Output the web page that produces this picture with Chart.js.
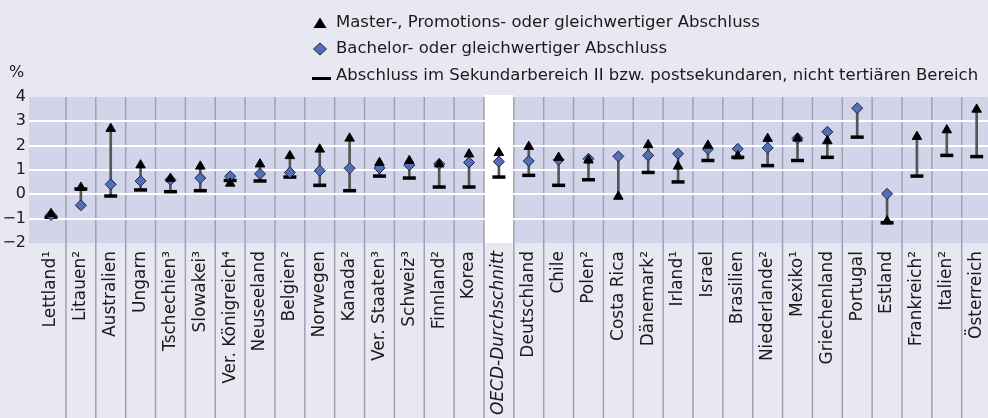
<!DOCTYPE html>
<html>
<head>
<meta charset="utf-8">
<script src="https://cdn.jsdelivr.net/npm/chart.js@4.4.1/dist/chart.umd.min.js"></script>
<style>
  html, body { margin: 0; padding: 0; background: #e8e8f3; }
  canvas { display: block; }
</style>
</head>
<body>
<canvas id="grafico" width="988" height="418"></canvas>
<script>
// Länder (Reihenfolge wie in der Abbildung), OECD-Durchschnitt an Position 15
const laender = ['Lettland¹', 'Litauen²', 'Australien', 'Ungarn', 'Tschechien³', 'Slowakei³',
  'Ver. Königreich⁴', 'Neuseeland', 'Belgien²', 'Norwegen', 'Kanada²', 'Ver. Staaten³',
  'Schweiz³', 'Finnland²', 'Korea', 'OECD-Durchschnitt', 'Deutschland', 'Chile', 'Polen²',
  'Costa Rica', 'Dänemark²', 'Irland¹', 'Israel', 'Brasilien', 'Niederlande²', 'Mexiko¹',
  'Griechenland', 'Portugal', 'Estland', 'Frankreich²', 'Italien²', 'Österreich'];
const oecdIndex = 15;

// Veränderung in Prozentpunkten
const master = [-0.8, 0.28, 2.7, 1.2, 0.65, 1.15, 0.45, 1.24, 1.58, 1.85, 2.3, 1.3,
  1.38, 1.24, 1.65, 1.71, 1.96, 1.51, 1.4, -0.09, 2.03, 1.15, 2.01, 1.57, 2.29, 2.3,
  2.19, null, -1.1, 2.37, 2.64, 3.49];
const bachelor = [-0.85, -0.45, 0.41, 0.55, 0.6, 0.67, 0.74, 0.84, 0.9, 0.97, 1.07, 1.08,
  1.2, 1.25, 1.31, 1.34, 1.37, 1.42, 1.46, 1.56, 1.6, 1.67, 1.86, 1.87, 1.91, 2.3,
  2.57, 3.54, 0.02, null, null, null];
const sekII = [-0.94, 0.22, -0.07, 0.18, 0.11, 0.15, 0.57, 0.55, 0.71, 0.37, 0.15, 0.75,
  0.67, 0.3, 0.3, 0.71, 0.78, 0.37, 0.6, null, 0.9, 0.51, 1.39, 1.52, 1.18, 1.39,
  1.52, 2.35, -1.17, 0.75, 1.6, 1.55];

const yTicks = [-2, -1, 0, 1, 2, 3, 4];
const legendeTexte = [
  'Master-, Promotions- oder gleichwertiger Abschluss',
  'Bachelor- oder gleichwertiger Abschluss',
  'Abschluss im Sekundarbereich II bzw. postsekundaren, nicht tertiären Bereich'
];

const blau = '#5170b2';
const punkte = (werte) => werte.map((v, i) => ({ x: i, y: v }));
const spanne = laender.map((_, i) => {
  const w = [master[i], bachelor[i], sekII[i]].filter(v => v !== null);
  return { x: i, y: [Math.min(...w), Math.max(...w)] };
});

// Hintergrund, Spalten, OECD-Spalte, Länderbeschriftung, Legende und %-Zeichen
const rahmen = {
  id: 'rahmen',
  beforeDraw(chart) {
    const { ctx, chartArea: a, scales: { x } } = chart;
    ctx.save();
    ctx.fillStyle = '#e8e8f3';
    ctx.fillRect(0, 0, chart.width, chart.height);
    ctx.fillStyle = '#d2d5ea';
    ctx.fillRect(a.left, a.top, chart.width - a.left, a.bottom - a.top);
    ctx.fillStyle = '#ffffff';
    const l = x.getPixelForValue(oecdIndex - 0.5), r = x.getPixelForValue(oecdIndex + 0.5);
    ctx.fillRect(l, a.top - 2, r - l, a.bottom - a.top + 2);
    ctx.strokeStyle = '#9fa1b2';
    ctx.lineWidth = 1.5;
    for (let i = 0; i < laender.length; i++) {
      const px = x.getPixelForValue(i + 0.5);
      if (px >= chart.width - 1) continue;
      ctx.beginPath();
      ctx.moveTo(px, a.top);
      ctx.lineTo(px, chart.height);
      ctx.stroke();
    }
    ctx.restore();
  },
  afterDraw(chart) {
    const { ctx, chartArea: a, scales: { x } } = chart;
    ctx.save();
    ctx.fillStyle = '#1a1a1a';
    ctx.textBaseline = 'middle';

    // Ländernamen senkrecht unter dem Diagramm
    ctx.textAlign = 'right';
    laender.forEach((name, i) => {
      ctx.save();
      ctx.translate(x.getPixelForValue(i), a.bottom + 8);
      ctx.rotate(-Math.PI / 2);
      ctx.font = (i === oecdIndex ? 'italic ' : '') + '17px "DejaVu Sans"';
      ctx.fillText(name, 0, 0);
      ctx.restore();
    });

    ctx.textAlign = 'left';
    ctx.font = '16px "DejaVu Sans"';
    ctx.fillText('%', 9, 73);

    ctx.font = '16.5px "DejaVu Sans"';
    const zeilen = [23, 49, 76];
    zeilen.forEach((y, k) => {
      const mx = 320;
      if (k === 0) {
        ctx.fillStyle = '#000';
        ctx.beginPath();
        ctx.moveTo(mx, y - 5.5); ctx.lineTo(mx + 6.5, y + 5); ctx.lineTo(mx - 6.5, y + 5);
        ctx.closePath(); ctx.fill();
      } else if (k === 1) {
        ctx.fillStyle = blau; ctx.strokeStyle = '#1b2547'; ctx.lineWidth = 1;
        ctx.beginPath();
        ctx.moveTo(mx, y - 6); ctx.lineTo(mx + 6.5, y); ctx.lineTo(mx, y + 6); ctx.lineTo(mx - 6.5, y);
        ctx.closePath(); ctx.fill(); ctx.stroke();
      } else {
        ctx.fillStyle = '#000';
        ctx.fillRect(312, y + 1, 19, 3);
      }
      ctx.fillStyle = '#1a1a1a';
      ctx.fillText(legendeTexte[k], 336, y);
    });
    ctx.restore();
  }
};

new Chart(document.getElementById('grafico'), {
  type: 'line',
  data: {
    datasets: [
      {
        label: legendeTexte[0], data: punkte(master), showLine: false, order: 0,
        pointStyle: 'triangle', pointRadius: 5.5, pointBackgroundColor: '#000',
        pointBorderColor: '#000', pointBorderWidth: 1
      },
      {
        label: legendeTexte[1], data: punkte(bachelor), showLine: false, order: 1,
        pointStyle: 'rectRot', pointRadius: 5.5, pointBackgroundColor: blau,
        pointBorderColor: '#1b2547', pointBorderWidth: 1
      },
      {
        label: legendeTexte[2], data: punkte(sekII), showLine: false, order: 2,
        pointStyle: 'line', pointRadius: 6.5, pointBorderColor: '#000', pointBorderWidth: 3.5
      },
      {
        type: 'bar', label: 'Spanne', data: spanne, order: 3,
        backgroundColor: '#555', barThickness: 2, borderSkipped: false
      }
    ]
  },
  options: {
    responsive: false,
    devicePixelRatio: 1,
    animation: false,
    layout: { autoPadding: false, padding: { top: 97, right: 0, left: 0, bottom: 0 } },
    plugins: { legend: { display: false }, tooltip: { enabled: false } },
    scales: {
      x: {
        type: 'linear',
        offset: false,
        min: -0.737,
        max: 31.38,
        afterBuildTicks: (axis) => { axis.ticks = laender.map((_, i) => ({ value: i })); },
        afterFit: (axis) => { axis.height = 175; },
        grid: { display: false, drawTicks: false, offset: false },
        border: { display: false },
        ticks: { display: false }
      },
      y: {
        min: -2,
        max: 4,
        afterBuildTicks: (axis) => { axis.ticks = yTicks.map(v => ({ value: v })); },
        afterFit: (axis) => { axis.width = 29; },
        grid: {
          color: (c) => (c.tick && (c.tick.value === -2 || c.tick.value === 4)) ? 'rgba(0,0,0,0)' : '#ffffff',
          lineWidth: 2,
          drawTicks: false
        },
        border: { display: false },
        ticks: {
          padding: 3,
          color: '#1a1a1a',
          font: { family: '"DejaVu Sans"', size: 16 },
          callback: (v) => v < 0 ? '−' + Math.abs(v) : String(v)
        }
      }
    }
  },
  plugins: [rahmen]
});
</script>
</body>
</html>
